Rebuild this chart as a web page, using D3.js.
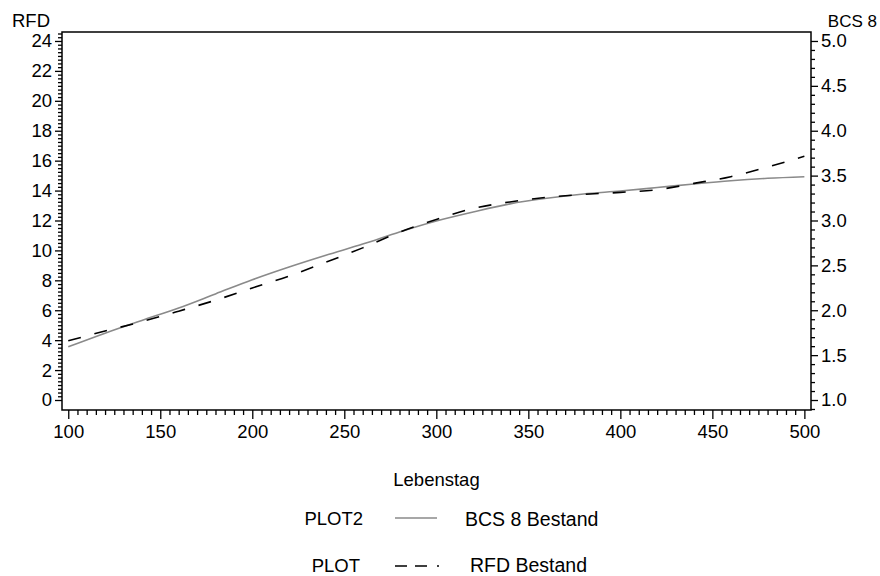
<!DOCTYPE html>
<html>
<head>
<meta charset="utf-8">
<script src="https://cdn.jsdelivr.net/npm/d3@7"></script>
<style>
  html, body { margin: 0; padding: 0; background: #fff; }
  svg { display: block; }
  text { font-family: "Liberation Sans", Arial, sans-serif; fill: #000; }
</style>
</head>
<body>
<svg id="chart" width="880" height="576"></svg>
<script>
// Age in days (Lebenstag) at which both fitted curves are sampled
const days = [100, 120, 140, 160, 180, 200, 220, 240, 260, 280, 300,
              320, 340, 360, 380, 400, 420, 440, 460, 480, 500];
// Body condition score, herd BCS 8 (right axis)
const bcsBestand = [1.593, 1.745, 1.887, 2.025, 2.182, 2.340, 2.482, 2.613, 2.737, 2.873, 2.995,
                    3.095, 3.185, 3.247, 3.295, 3.328, 3.367, 3.407, 3.443, 3.470, 3.488];
// Back fat thickness RFD of the herd (left axis)
const rfdBestand = [3.96, 4.61, 5.24, 5.94, 6.67, 7.49, 8.29, 9.21, 10.17, 11.22, 12.07,
                    12.80, 13.24, 13.55, 13.74, 13.88, 14.06, 14.48, 14.93, 15.57, 16.30];

const xTicks = [100, 150, 200, 250, 300, 350, 400, 450, 500];
const leftTicks = [0, 2, 4, 6, 8, 10, 12, 14, 16, 18, 20, 22, 24];
const rightTicks = [1.0, 1.5, 2.0, 2.5, 3.0, 3.5, 4.0, 4.5, 5.0];

const svg = d3.select("#chart");
const frame = { left: 62, right: 811, top: 32, bottom: 410 };

const x = d3.scaleLinear().domain([96.6, 503.6]).range([frame.left, frame.right]);
const yL = d3.scaleLinear().domain([-0.668, 24.6]).range([frame.bottom, frame.top]);
const yR = d3.scaleLinear().domain([1 - 0.668 / 6, 1 + 24.6 / 6]).range([frame.bottom, frame.top]);

const fontSize = "18.5px";
const legendFont = "19.5px";

// minor tick positions
const xMinor = d3.range(100, 501, 5).filter(v => v % 50 !== 0);
const leftMinor = d3.range(0, 24.6, 0.25).filter(v => Math.abs(v / 2 - Math.round(v / 2)) > 1e-6);
const rightMinor = d3.range(0.9, 5.1, 0.1).map(v => +v.toFixed(1))
  .filter(v => v >= yR.domain()[0] && v <= yR.domain()[1] && Math.abs(v * 2 - Math.round(v * 2)) > 1e-6);

function styleAxis(g) {
  g.select(".domain").remove();
  g.selectAll(".tick line").attr("stroke", "#000").attr("stroke-width", 1.3);
  g.selectAll(".tick text").style("font-size", fontSize).attr("fill", "#000");
}

// bottom axis
svg.append("g").attr("transform", `translate(0,${frame.bottom})`)
  .call(d3.axisBottom(x).tickValues(xMinor).tickSize(5).tickFormat(""))
  .call(styleAxis);
svg.append("g").attr("transform", `translate(0,${frame.bottom})`)
  .call(d3.axisBottom(x).tickValues(xTicks).tickSize(9).tickPadding(6).tickFormat(d3.format("d")))
  .call(styleAxis);

// left axis
svg.append("g").attr("transform", `translate(${frame.left},0)`)
  .call(d3.axisLeft(yL).tickValues(leftMinor).tickSize(4).tickFormat(""))
  .call(styleAxis);
svg.append("g").attr("transform", `translate(${frame.left},0)`)
  .call(d3.axisLeft(yL).tickValues(leftTicks).tickSize(7).tickPadding(3).tickFormat(d3.format("d")))
  .call(styleAxis);

// right axis
svg.append("g").attr("transform", `translate(${frame.right},0)`)
  .call(d3.axisRight(yR).tickValues(rightMinor).tickSize(4).tickFormat(""))
  .call(styleAxis);
svg.append("g").attr("transform", `translate(${frame.right},0)`)
  .call(d3.axisRight(yR).tickValues(rightTicks).tickSize(7).tickPadding(3).tickFormat(d3.format(".1f")))
  .call(styleAxis);

// plot frame
svg.append("rect")
  .attr("x", frame.left).attr("y", frame.top)
  .attr("width", frame.right - frame.left).attr("height", frame.bottom - frame.top)
  .attr("fill", "none").attr("stroke", "#000").attr("stroke-width", 1.5);

// curves
const bcsLine = d3.line()
  .x((d, i) => x(days[i])).y(d => yR(d))
  .curve(d3.curveMonotoneX);
const rfdLine = d3.line()
  .x((d, i) => x(days[i])).y(d => yL(d))
  .curve(d3.curveMonotoneX);

svg.append("path").datum(bcsBestand)
  .attr("d", bcsLine)
  .attr("fill", "none").attr("stroke", "#8a8a8a").attr("stroke-width", 1.6);
svg.append("path").datum(rfdBestand)
  .attr("d", rfdLine)
  .attr("fill", "none").attr("stroke", "#000").attr("stroke-width", 1.6)
  .attr("stroke-dasharray", "13,14");

// axis titles
svg.append("text").attr("x", 12).attr("y", 27).style("font-size", fontSize).text("RFD");
svg.append("text").attr("x", 877).attr("y", 27).attr("text-anchor", "end")
  .style("font-size", "17px").text("BCS 8");
svg.append("text").attr("x", (frame.left + frame.right) / 2).attr("y", 486)
  .attr("text-anchor", "middle").style("font-size", fontSize).text("Lebenstag");

// legend
const legend = svg.append("g");
legend.append("text").attr("x", 363).attr("y", 525).attr("text-anchor", "end")
  .style("font-size", fontSize).text("PLOT2");
legend.append("line").attr("x1", 395).attr("x2", 437).attr("y1", 518).attr("y2", 518)
  .attr("stroke", "#8a8a8a").attr("stroke-width", 1.6);
legend.append("text").attr("x", 465).attr("y", 526)
  .style("font-size", legendFont).text("BCS 8 Bestand");

legend.append("text").attr("x", 360).attr("y", 572).attr("text-anchor", "end")
  .style("font-size", fontSize).text("PLOT");
legend.append("line").attr("x1", 395).attr("x2", 439).attr("y1", 566).attr("y2", 566)
  .attr("stroke", "#000").attr("stroke-width", 1.6)
  .attr("stroke-dasharray", "12,8,12,10,2");
legend.append("text").attr("x", 470).attr("y", 572)
  .style("font-size", legendFont).text("RFD Bestand");
</script>
</body>
</html>
